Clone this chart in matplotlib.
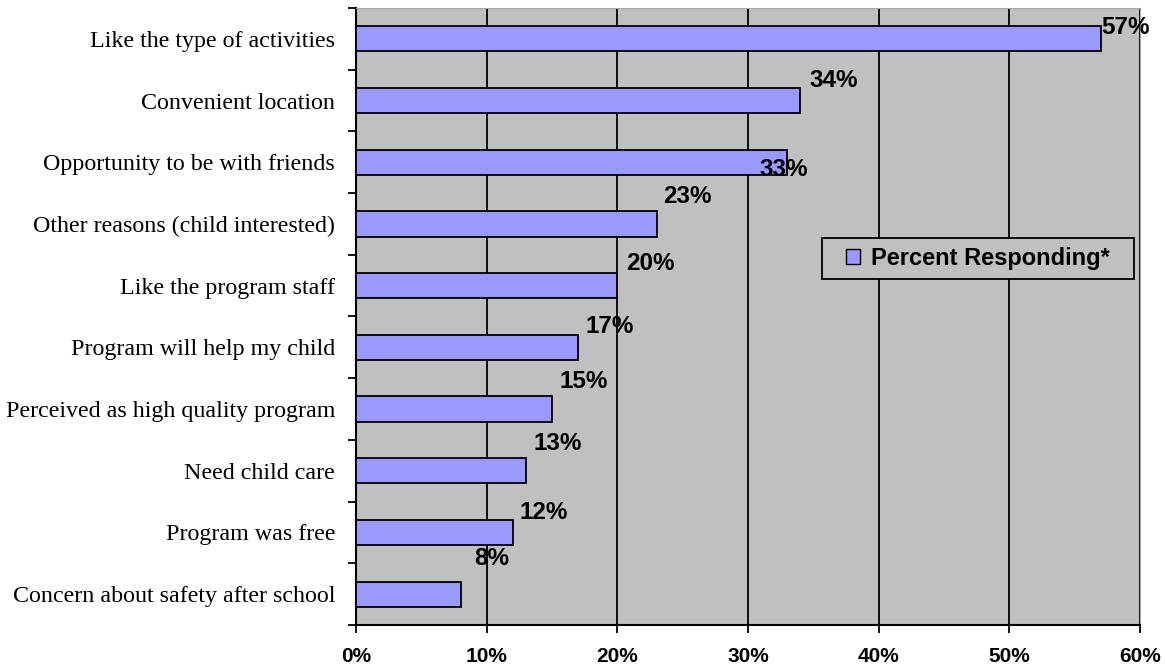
import matplotlib.pyplot as plt
import numpy as np
from matplotlib.patches import Patch, Rectangle

categories = [
    "Like the type of activities",
    "Convenient location",
    "Opportunity to be with friends",
    "Other reasons (child interested)",
    "Like the program staff",
    "Program will help my child",
    "Perceived as high quality program",
    "Need child care",
    "Program was free",
    "Concern about safety after school",
]
values = [57, 34, 33, 23, 20, 17, 15, 13, 12, 8]
x_ticks = [0, 10, 20, 30, 40, 50, 60]
series_name = "Percent Responding*"

# label offsets in pixels from (bar end, bar centre), mimicking the original placement
label_dx = [25, 33, -3, 31, 33, 32, 32, 32, 31, 31]
label_dy = [11, 20, -7, 27, 22, 21, 28, 27, 20, 36]

W, H = 1165, 668
fig = plt.figure(figsize=(W / 100, H / 100), dpi=100)
ax = fig.add_axes([356 / W, 1 - 625 / H, (1140 - 356) / W, (625 - 8) / H])
ax.set_facecolor("#C0C0C0")

y = np.arange(len(categories))
ax.barh(y, values, height=0.41, color="#9999FF", edgecolor="black", linewidth=1.3, zorder=3)

ax.set_xlim(0, 60)
ax.set_ylim(len(categories) - 0.5, -0.5)
ax.set_xticks(x_ticks)
ax.set_xticklabels([f"{t}%" for t in x_ticks], fontsize=15, fontweight="bold",
                   family="Liberation Sans")
ax.xaxis.grid(True, color="black", linewidth=1.3, zorder=1)
ax.set_axisbelow(True)

# category labels centred, ticks at the boundaries
ax.set_yticks(y)
ax.set_yticklabels(categories, family="Liberation Serif", fontsize=17.3)
ax.tick_params(axis="y", length=0, pad=15)
ax.set_yticks(np.arange(-0.5, len(categories), 1.0), minor=True)
ax.tick_params(axis="y", which="minor", length=6, width=1.3, direction="out")
ax.tick_params(axis="x", length=6, width=1.3, direction="out", pad=10)

ax.spines["left"].set_linewidth(1.5)
ax.spines["bottom"].set_linewidth(1.5)
ax.spines["top"].set_color("#A8A8A8")
ax.spines["right"].set_color("#A8A8A8")

for i, v in enumerate(values):
    ax.annotate(f"{v}%", (v, i), xytext=(label_dx[i], label_dy[i]), textcoords="offset pixels",
                ha="center", va="center", fontsize=17.5, fontweight="bold",
                family="Liberation Sans", zorder=5)

# legend box drawn separately so its padding can match the original
fig.patches.append(Rectangle((822 / W, 1 - 279 / H), (1134 - 822) / W, (279 - 238) / H,
                             transform=fig.transFigure, facecolor="#C0C0C0",
                             edgecolor="black", linewidth=1.3, zorder=4))
handle = Patch(facecolor="#9999FF", edgecolor="black", linewidth=1.0)
leg = fig.legend([handle], [series_name], loc="center left",
                 bbox_to_anchor=(846 / W, 1 - 258.5 / H),
                 prop={"family": "Liberation Sans", "weight": "bold", "size": 17},
                 frameon=False, handlelength=0.6, handleheight=0.6, handletextpad=0.45,
                 borderpad=0, borderaxespad=0)
leg.set_zorder(5)

fig.savefig("out.png", dpi=100)
